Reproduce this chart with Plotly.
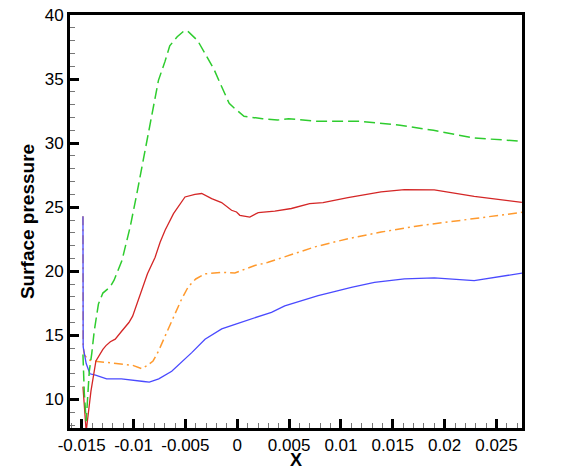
import numpy as np
import plotly.graph_objects as go

# green, dashed
x_green = [-0.01488, -0.01475, -0.01457, -0.01427, -0.01403, -0.01379, -0.01339, -0.01296,
           -0.01224, -0.01188, -0.01112, -0.01033, -0.00968, -0.0092, -0.00856, -0.00808,
           -0.0076, -0.00696, -0.00651, -0.00579, -0.00508, -0.00472, -0.00382, -0.00311,
           -0.00221, -0.0015, -0.00078, -0.00024, 0.00065, 0.00244, 0.00388, 0.00495,
           0.00782, 0.01176, 0.0157, 0.01892, 0.02286, 0.02745]
y_green = [13.5, 10.5, 8.3, 12.2, 13.6, 15.35, 17.44, 18.3,
           18.8, 19.3, 20.84, 23.45, 26.07, 28.15, 30.77, 33.1,
           34.9, 36.4, 37.6, 38.3, 38.8, 38.7, 38.0, 37.0,
           35.7, 34.4, 33.1, 32.7, 32.1, 31.9, 31.8, 31.9,
           31.7, 31.7, 31.4, 31.0, 30.4, 30.15]

# red, solid
x_red = [-0.01488, -0.01457, -0.01411, -0.01363, -0.01296, -0.01266, -0.01224, -0.01177,
         -0.01117, -0.01045, -0.01009, -0.00938, -0.00866, -0.00792, -0.00744, -0.00696,
         -0.00615, -0.00504, -0.00408, -0.00343, -0.00247, -0.00151, -0.00055, -0.00007,
         0.00025, 0.00121, 0.00202, 0.00362, 0.00522, 0.00698, 0.00827, 0.01067,
         0.01387, 0.01612, 0.019, 0.02285, 0.02745]
y_red = [11.0, 7.5, 10.65, 13.0, 13.9, 14.2, 14.5, 14.7,
         15.3, 16.0, 16.5, 18.1, 19.8, 21.1, 22.27, 23.2,
         24.5, 25.8, 26.0, 26.07, 25.67, 25.36, 24.76, 24.63,
         24.37, 24.23, 24.58, 24.7, 24.9, 25.28, 25.36, 25.75,
         26.19, 26.38, 26.35, 25.85, 25.38]

# orange, dash-dot
x_orange = [-0.01488, -0.01486, -0.01475, -0.01439, -0.01385, -0.0126, -0.01117, -0.01009,
            -0.0092, -0.00866, -0.00812, -0.00758, -0.00687, -0.00615, -0.00544, -0.00472,
            -0.004, -0.00311, -0.00151, -0.00023, 0.00041, 0.00169, 0.00298, 0.0049,
            0.00746, 0.01067, 0.01387, 0.01708, 0.02029, 0.02349, 0.02745]
y_orange = [24.3, 14.1, 13.5, 13.1, 13.0, 12.9, 12.8, 12.66,
            12.4, 12.66, 13.0, 13.8, 15.1, 16.4, 17.7, 18.8,
            19.4, 19.8, 19.92, 19.87, 20.05, 20.45, 20.7, 21.2,
            21.9, 22.54, 23.06, 23.5, 23.84, 24.18, 24.6]

# blue, solid
x_blue = [-0.01488, -0.01486, -0.01457, -0.01421, -0.01367, -0.0126, -0.01117, -0.00973,
          -0.00902, -0.00848, -0.00757, -0.00632, -0.00439, -0.00311, -0.00231, -0.0015,
          -0.00007, 0.00073, 0.0033, 0.00458, 0.0078, 0.00907, 0.011, 0.01323,
          0.01612, 0.019, 0.02285, 0.02753]
y_blue = [24.3, 14.1, 12.8, 12.0, 11.9, 11.6, 11.6, 11.5,
          11.4, 11.35, 11.6, 12.2, 13.65, 14.7, 15.1, 15.5,
          15.9, 16.1, 16.8, 17.3, 18.1, 18.35, 18.75, 19.14,
          19.4, 19.48, 19.27, 19.87]

x_ticks = [-0.015, -0.01, -0.005, 0, 0.005, 0.01, 0.015, 0.02, 0.025]
x_ticktext = ["-0.015", "-0.01", "-0.005", "0", "0.005", "0.01", "0.015", "0.02", "0.025"]
y_ticks = [10, 15, 20, 25, 30, 35, 40]

fig = go.Figure()
fig.add_trace(go.Scatter(x=x_orange, y=y_orange, mode='lines',
                         line=dict(color='#ff9a2e', width=1.5, dash='9px,4px,2px,4px')))
fig.add_trace(go.Scatter(x=x_blue, y=y_blue, mode='lines',
                         line=dict(color='#4a4aff', width=1.3)))
fig.add_trace(go.Scatter(x=x_red, y=y_red, mode='lines',
                         line=dict(color='#d42626', width=1.3)))
fig.add_trace(go.Scatter(x=x_green, y=y_green, mode='lines',
                         line=dict(color='#2ecc2e', width=1.5, dash='11px,5px')))

axis_font = dict(family='Liberation Sans, Arial, sans-serif', size=17, color='black')

# the page body adds an 8px offset, so margins are shifted to compensate
fig.update_layout(
    width=586, height=469,
    margin=dict(l=62, r=72, t=7, b=49),
    plot_bgcolor='white', paper_bgcolor='white',
    showlegend=False,
    font=axis_font,
    xaxis=dict(
        range=[-0.01613, 0.02746], automargin=False,
        tickmode='array', tickvals=x_ticks, ticktext=x_ticktext,
        ticks='inside', ticklen=9, tickwidth=2.5, tickcolor='black',
        ticklabeloverflow='allow',
        minor=dict(tickmode='array', tickvals=list(np.arange(-0.016, 0.0275, 0.001)),
                   ticks='inside', ticklen=5, tickwidth=1, tickcolor='#777777'),
        showline=True, linewidth=3, linecolor='black', mirror=True,
        showgrid=False, zeroline=False,
    ),
    yaxis=dict(
        range=[7.77, 40], automargin=False,
        tickmode='array', tickvals=y_ticks,
        ticks='inside', ticklen=9, tickwidth=2.5, tickcolor='black',
        ticklabeloverflow='allow',
        minor=dict(tickmode='array', tickvals=list(range(8, 41)),
                   ticks='inside', ticklen=5, tickwidth=1, tickcolor='#777777'),
        showline=True, linewidth=3, linecolor='black', mirror=True,
        showgrid=False, zeroline=False,
        title=dict(text='<b>Surface pressure</b>', font=dict(size=19), standoff=6),
    ),
    annotations=[dict(text='<b>X</b>', x=0.5, y=-0.078, xref='paper', yref='paper',
                      xanchor='center', yanchor='middle', showarrow=False,
                      font=dict(size=18))],
)

fig.write_html("out.html")
